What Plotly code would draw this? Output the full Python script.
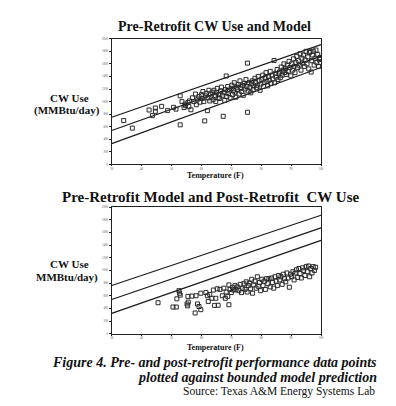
import plotly.graph_objects as go

# ---------------- data ----------------
x_ticks = [30, 40, 50, 60, 70, 80, 90, 100]
y_ticks = [0, 200, 400, 600, 800, 1000, 1200, 1400, 1600, 1800, 2000]

model_x = [30, 100]
pre_upper = [751, 1906]
pre_mid = [540, 1724]
pre_lower = [331, 1543]
post_upper = [761, 1870]
post_mid = [541, 1672]
post_lower = [323, 1473]

pre_pts = [
    (34, 698), (36.9, 578), (42.5, 866), (43.6, 777), (44.6, 898), (44.6, 845), (46.7, 924),
    (48.7, 856), (50.7, 909), (51.5, 880), (52.9, 1092), (52.9, 630), (53.5, 1000),
    (54.2, 905), (54.5, 960), (54.7, 935), (55.5, 985), (55.8, 920), (56, 1010), (56.5, 870),
    (57, 1060), (57.5, 1000), (58, 1120), (58.3, 950), (58.8, 1040), (59.2, 1080), (59.5, 990),
    (60, 1110), (60.3, 1050), (60.5, 1160), (60.8, 1000), (61.1, 693), (61.3, 1090), (61.6, 1130),
    (62, 855), (62.2, 1060), (62.5, 1180), (62.8, 1010), (63, 1120), (63.3, 1070), (63.6, 1150), (63.9, 1030),
    (64.2, 1180), (64.5, 1090), (64.8, 1000), (65, 1140), (65.3, 1210), (65.6, 1060), (65.9, 1110),
    (66.1, 1050), (66.4, 1170), (66.7, 1230), (67, 1100), (67.3, 766), (67.5, 1140), (67.8, 1020), (68, 1190),
    (68.3, 1407), (68.5, 1080), (68.8, 1240), (69, 1130), (69.3, 1170), (69.6, 1060), (69.9, 1210),
    (70.2, 1260), (70.4, 1110), (70.7, 1180), (71, 1300), (71.2, 1150), (71.5, 1070), (71.8, 1230),
    (72, 1190), (72.3, 1270), (72.6, 1120), (72.9, 1330), (73.2, 1210), (73.5, 1160), (73.8, 1250),
    (74, 1100), (74.3, 1290), (74.6, 1200), (74.9, 1350), (75.2, 1240), (75.4, 1612), (75.4, 830),
    (75.6, 1170), (75.9, 1300),
    (76.2, 1220), (76.5, 1140), (76.8, 1280), (77, 1330), (77.3, 1190), (77.6, 1250), (77.9, 1370),
    (78.1, 1300), (78.4, 1220), (78.7, 1260), (79, 1400), (79.3, 1330), (79.6, 1180), (79.9, 1280),
    (80.2, 1350), (80.5, 1420), (80.8, 1240), (81, 1300), (81.3, 1380), (81.6, 1460), (81.9, 1320),
    (82.1, 1250), (82.4, 1400), (82.7, 1340), (83, 1480), (83.3, 1290), (83.6, 1420), (83.9, 1360),
    (84.3, 1654), (84.5, 1300), (84.8, 1450), (85, 1390), (85.3, 1510), (85.6, 1350), (85.9, 1440),
    (86.1, 1470), (86.4, 1380), (86.7, 1550), (87, 1420), (87.3, 1500), (87.6, 1600), (87.9, 1460),
    (88.1, 1520), (88.4, 1430), (88.7, 1580), (89, 1480), (89.3, 1640), (89.6, 1540), (89.9, 1410),
    (90.2, 1600), (90.5, 1500), (90.8, 1680), (91, 1560), (91.3, 1460), (91.6, 1620), (91.9, 1720),
    (92.1, 1540), (92.4, 1650), (92.7, 1580), (93, 1760), (93.3, 1500), (93.6, 1690), (93.9, 1610),
    (94.1, 1740), (94.4, 1560), (94.7, 1660), (95, 1800), (95.3, 1600), (95.6, 1710), (95.9, 1520),
    (96.1, 1780), (96.4, 1800), (96.7, 1470), (96.9, 1650), (97.2, 1740), (97.4, 1800), (97.7, 1580),
    (98, 1690), (98.3, 1820), (98.6, 1620), (98.9, 1750), (99.2, 1560), (99.5, 1670), (99.7, 1620), (99.7, 1700),
]
pre_x = [p[0] for p in pre_pts]
pre_y = [p[1] for p in pre_pts]

post_pts = [
    (45.5, 490), (50.5, 422), (51.6, 422), (51.8, 552), (52.5, 680), (52.7, 640), (52.9, 610),
    (55.2, 470), (55.4, 440), (55.6, 500), (55.5, 590), (56.8, 595), (57.9, 328), (58.2, 600),
    (58.7, 470), (59.2, 430), (59.8, 380), (59.8, 640),
    (61.5, 650), (62, 600), (62.3, 510), (62.8, 620), (63.5, 560), (64, 690), (64.4, 448),
    (64.8, 560), (65.3, 710), (65.6, 450),
    (66.2, 700), (67, 600), (67.5, 720), (68, 560), (68.3, 660), (68.8, 590), (69.2, 771),
    (69.2, 458), (69.6, 700),
    (70, 650), (70.4, 730), (70.8, 690), (71.2, 760), (71.6, 700), (72, 740), (72.5, 680),
    (73, 780), (73.4, 650), (73.8, 720),
    (74.2, 790), (74.6, 700), (75, 820), (75.3, 660), (75.7, 760), (76, 800), (76.4, 710),
    (76.8, 860), (77.1, 640), (77.5, 770), (77.9, 830),
    (78.3, 720), (78.7, 900), (79, 750), (79.4, 810), (79.8, 680), (80.2, 860), (80.6, 760),
    (81, 830), (81.4, 700), (81.8, 870),
    (82.2, 790), (82.6, 870), (83, 740), (83.4, 880), (83.8, 810), (84.2, 720), (84.6, 900),
    (85, 830), (85.4, 760), (85.8, 920),
    (86.2, 850), (86.6, 900), (87, 780), (87.4, 940), (87.8, 870), (88.2, 820), (88.6, 960),
    (89, 880), (89.4, 735), (89.8, 940),
    (90.2, 900), (90.6, 980), (91, 850), (91.4, 960), (91.8, 1010), (92.2, 890), (92.6, 1030),
    (93, 950), (93.4, 880), (93.8, 1040),
    (94.2, 1000), (94.6, 920), (95, 1060), (95.4, 980), (95.8, 1070), (96.2, 900), (96.6, 1030),
    (97, 960), (97.4, 1060), (97.8, 1000), (98.2, 1050),
]
post_x = [p[0] for p in post_pts]
post_y = [p[1] for p in post_pts]

# ---------------- figure ----------------
W, H = 396, 406
fig = go.Figure()

marker = dict(symbol="square-open", size=4, color="#2a2a2a", line=dict(width=1, color="#2a2a2a"))
line_style = dict(color="#1a1a1a", width=1.2)

for yy in (pre_upper, pre_mid, pre_lower):
    fig.add_trace(go.Scatter(x=model_x, y=yy, mode="lines", line=line_style,
                             xaxis="x", yaxis="y", showlegend=False, hoverinfo="skip"))
fig.add_trace(go.Scatter(x=pre_x, y=pre_y, mode="markers", marker=marker,
                         xaxis="x", yaxis="y", showlegend=False))

for yy in (post_upper, post_mid, post_lower):
    fig.add_trace(go.Scatter(x=model_x, y=yy, mode="lines", line=line_style,
                             xaxis="x2", yaxis="y2", showlegend=False, hoverinfo="skip"))
fig.add_trace(go.Scatter(x=post_x, y=post_y, mode="markers", marker=marker,
                         xaxis="x2", yaxis="y2", showlegend=False))

def px2paper_y(py):
    return 1 - py / H

xdom = [103 / W, 315 / W]
ax_common = dict(showgrid=False, zeroline=False, showline=True, linecolor="#222",
                 linewidth=1, mirror=True, ticks="outside", tickcolor="#222",
                 tickfont=dict(size=3, color="#555", family="Liberation Serif"))

fig.update_layout(
    width=W, height=H, autosize=False,
    margin=dict(l=0, r=0, t=0, b=0),
    paper_bgcolor="white", plot_bgcolor="white",
    xaxis=dict(domain=xdom, range=[30, 100], tickvals=x_ticks, anchor="y", ticklen=1, **ax_common),
    yaxis=dict(domain=[px2paper_y(156), px2paper_y(29)], range=[0, 2000], tickvals=y_ticks,
               anchor="x", ticklen=2, **ax_common),
    xaxis2=dict(domain=xdom, range=[30, 100], tickvals=x_ticks, anchor="y2", ticklen=1, **ax_common),
    yaxis2=dict(domain=[px2paper_y(327), px2paper_y(199)], range=[0, 2000], tickvals=y_ticks,
                anchor="x2", ticklen=2, **ax_common),
)

def txt(text, x, y, size, bold=False, italic=False, xanchor="center", family="Liberation Serif"):
    t = text
    if bold:
        t = "<b>" + t + "</b>"
    if italic:
        t = "<i>" + t + "</i>"
    fig.add_annotation(text=t, x=x / W, y=1 - y / H, xref="paper", yref="paper",
                       xanchor=xanchor, yanchor="middle", showarrow=False,
                       font=dict(size=size, family=family, color="#111"))

txt("Pre-Retrofit CW Use and Model", 207, 17, 14, bold=True)
txt("CW Use", 60, 89, 11, bold=True)
txt("(MMBtu/day)", 58, 101, 11, bold=True)
txt("Temperature (F)", 208, 167.5, 8, bold=True)

txt("Pre-Retrofit Model and Post-Retrofit  CW Use", 203, 189, 15, bold=True)
txt("CW Use", 60, 257, 11, bold=True)
txt("MMBtu/day)", 58, 270, 11, bold=True)
txt("Temperature (F)", 208, 341, 8, bold=True)

txt("Figure 4. Pre- and post-retrofit performance data points", 374, 356, 14, bold=True, italic=True, xanchor="right")
txt("plotted against bounded model prediction", 374, 371, 14, bold=True, italic=True, xanchor="right")
txt("Source: Texas A&amp;M Energy Systems Lab", 372, 385, 11.5, xanchor="right")

fig.write_html("out.html")
